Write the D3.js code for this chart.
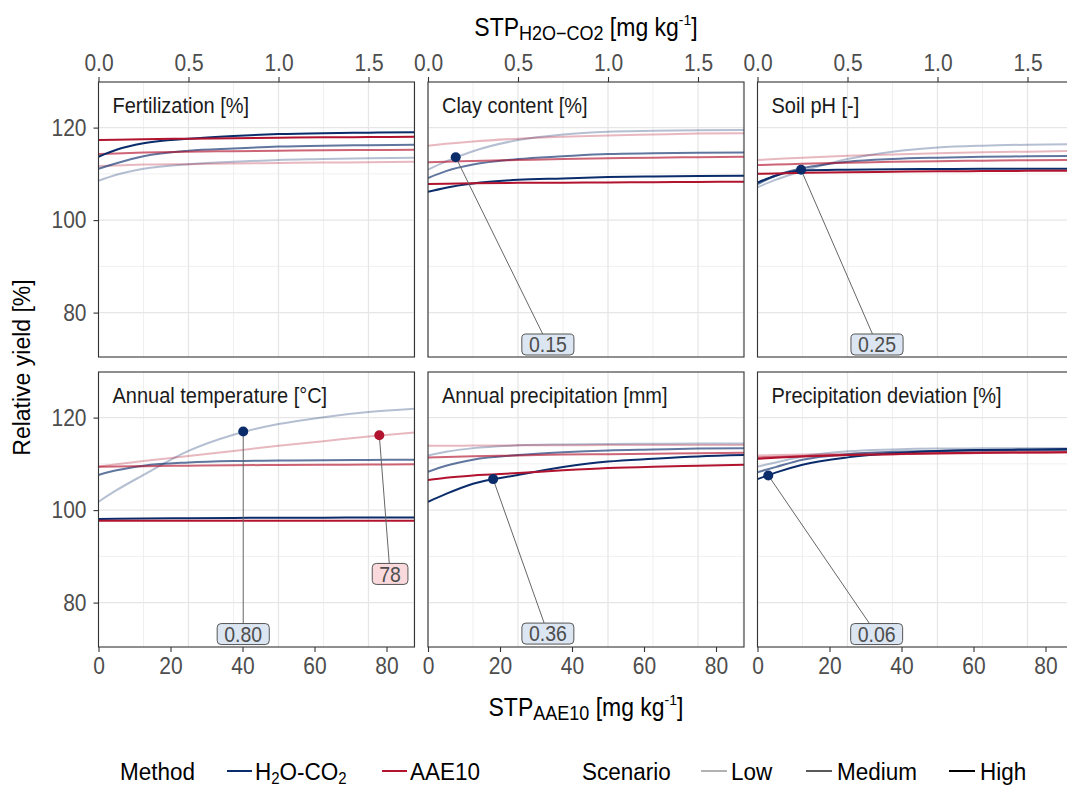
<!DOCTYPE html>
<html><head><meta charset="utf-8">
<script src="https://cdn.jsdelivr.net/npm/d3@7"></script>
<style>
html,body{margin:0;padding:0;background:#fff;}
svg{display:block;font-family:"Liberation Sans",Arial,Helvetica,sans-serif;}
</style></head>
<body>
<script>
// ---------------- data ----------------
const panelTitles = ["Fertilization [%]", "Clay content [%]", "Soil pH [-]",
  "Annual temperature [°C]", "Annual precipitation [mm]", "Precipitation deviation [%]"];
const methods = ["H2O-CO2", "AAE10"];
const scenarios = ["Low", "Medium", "High"];
// x positions (STP AAE10, mg/kg) at which the curves were read
const xSamples = [0, 5, 12.5, 25, 37.5, 50, 62.5, 75, 87.8];
// series order in each panel array: H2O-CO2 Low, Medium, High, AAE10 Low, Medium, High
const seriesMethod = ["H2O-CO2", "H2O-CO2", "H2O-CO2", "AAE10", "AAE10", "AAE10"];
const seriesScenario = ["Low", "Medium", "High", "Low", "Medium", "High"];

const fertilization = [
  [108.5, 109.8, 111.1, 112.1, 112.6, 113.0, 113.2, 113.4, 113.5],
  [111.1, 112.3, 113.8, 115.0, 115.5, 115.9, 116.1, 116.2, 116.3],
  [113.7, 115.2, 116.6, 117.6, 118.2, 118.6, 118.8, 118.9, 119.0],
  [111.7, 111.8, 112.0, 112.1, 112.25, 112.35, 112.45, 112.5, 112.6],
  [114.3, 114.4, 114.6, 114.8, 114.9, 115.0, 115.1, 115.15, 115.2],
  [117.3, 117.4, 117.5, 117.6, 117.7, 117.8, 117.9, 117.95, 118.0]
];
const clay = [
  [110.9, 112.7, 114.9, 117.3, 118.5, 119.1, 119.3, 119.45, 119.5],
  [109.1, 110.6, 112.0, 113.2, 113.8, 114.3, 114.45, 114.55, 114.6],
  [106.1, 107.0, 107.9, 108.7, 109.0, 109.3, 109.45, 109.55, 109.6],
  [116.1, 116.5, 117.0, 117.6, 118.0, 118.3, 118.5, 118.7, 118.8],
  [112.5, 112.6, 112.8, 113.0, 113.2, 113.35, 113.5, 113.6, 113.7],
  [107.8, 107.85, 107.95, 108.05, 108.1, 108.15, 108.2, 108.25, 108.3]
];
const soilPH = [
  [107.1, 108.7, 110.6, 113.2, 114.8, 115.7, 116.1, 116.3, 116.4],
  [107.8, 109.6, 111.2, 112.6, 113.2, 113.5, 113.7, 113.8, 113.9],
  [108.1, 109.6, 110.7, 110.9, 111.0, 111.05, 111.1, 111.1, 111.1],
  [113.0, 113.2, 113.5, 113.9, 114.2, 114.45, 114.65, 114.8, 114.95],
  [111.9, 112.0, 112.2, 112.4, 112.6, 112.75, 112.85, 112.95, 113.0],
  [110.0, 110.1, 110.2, 110.35, 110.45, 110.55, 110.6, 110.65, 110.7]
];
const temperature = [
  [101.8, 104.3, 107.6, 112.8, 116.3, 118.6, 120.1, 121.2, 121.9],
  [107.6, 108.6, 109.6, 110.3, 110.6, 110.7, 110.8, 110.85, 110.9],
  [98.1, 98.15, 98.2, 98.25, 98.3, 98.35, 98.35, 98.4, 98.4],
  [109.4, 109.9, 110.6, 111.7, 112.8, 113.9, 114.9, 115.9, 116.8],
  [109.4, 109.45, 109.5, 109.6, 109.7, 109.75, 109.8, 109.85, 109.9],
  [97.7, 97.7, 97.7, 97.7, 97.7, 97.7, 97.7, 97.7, 97.7]
];
const precipitation = [
  [111.8, 112.6, 113.4, 114.0, 114.2, 114.3, 114.35, 114.4, 114.4],
  [108.3, 109.6, 110.9, 111.9, 112.5, 112.9, 113.1, 113.3, 113.4],
  [101.8, 103.5, 105.7, 107.6, 109.3, 110.5, 111.1, 111.6, 111.9],
  [113.9, 113.9, 113.95, 114.0, 114.0, 114.05, 114.05, 114.1, 114.1],
  [111.4, 111.5, 111.65, 111.8, 112.0, 112.1, 112.2, 112.3, 112.4],
  [106.5, 107.0, 107.5, 108.0, 108.6, 109.1, 109.4, 109.6, 109.8]
];
const precipDeviation = [
  [109.4, 110.3, 111.6, 112.7, 113.1, 113.3, 113.35, 113.4, 113.4],
  [108.2, 109.3, 110.9, 112.1, 112.6, 112.8, 112.9, 113.0, 113.0],
  [106.7, 108.1, 109.8, 111.4, 112.3, 112.8, 113.0, 113.1, 113.2],
  [111.8, 111.9, 112.0, 112.2, 112.35, 112.5, 112.6, 112.65, 112.7],
  [111.4, 111.5, 111.7, 111.9, 112.1, 112.25, 112.35, 112.45, 112.5],
  [111.1, 111.3, 111.6, 111.9, 112.1, 112.3, 112.4, 112.45, 112.5]
];
const panelData = [fertilization, clay, soilPH, temperature, precipitation, precipDeviation];

// highlighted points and their labels
const markerPanel = [1, 2, 3, 3, 4, 5];
const markerMethod = ["H2O-CO2", "H2O-CO2", "H2O-CO2", "AAE10", "H2O-CO2", "H2O-CO2"];
const markerX = [7.7, 12.1, 40.2, 78.0, 18.1, 3.0];
const markerY = [113.6, 110.9, 117.0, 116.2, 106.7, 107.5];
const markerLabel = ["0.15", "0.25", "0.80", "78", "0.36", "0.06"];
const labelX = [33.3, 33.2, 40.2, 81.0, 33.3, 33.1];
const labelY = [73.1, 73.1, 73.2, 86.2, 73.3, 73.2];

const yTicks = [80, 100, 120];
const yMinor = [90, 110];
const bottomTicks = [0, 20, 40, 60, 80];
const topTicks = [0.0, 0.5, 1.0, 1.5];
const topMinor = [0.25, 0.75, 1.25, 1.75];

// ---------------- layout ----------------
const W = 1067, H = 787;
const PW = 316, PH = 275;
const colX = [98.5, 428, 757.5];
const rowY = [82, 372];
const TEXT_STRETCH = 1.1;
const methodColor = {"H2O-CO2": "#0b2c6b", "AAE10": "#b2132e"};
const methodFill = {"H2O-CO2": "#dce6f2", "AAE10": "#f9d9dc"};
const scenarioAlpha = {"Low": 0.3, "Medium": 0.65, "High": 1};
const tickColor = "#333333", tickText = "#4d4d4d";

const svg = d3.select("body").append("svg").attr("width", W).attr("height", H);

const x = d3.scaleLinear().domain([0, PW / 3.6]).range([0, PW]);
const xTop = d3.scaleLinear().domain([0, PW / 3.6 / 50]).range([0, PW]);
const y = d3.scaleLinear().domain([70.4, 129.86]).range([PH, 0]);

const defs = svg.append("defs");
defs.append("clipPath").attr("id", "clip").append("rect").attr("width", PW).attr("height", PH);

const line = d3.line().x(d => x(d[0])).y(d => y(d[1])).curve(d3.curveMonotoneX);
const drawOrder = [0, 3, 1, 4, 2, 5];

panelTitles.forEach((title, pi) => {
  const col = pi % 3, row = Math.floor(pi / 3);
  const g = svg.append("g").attr("transform", `translate(${colX[col]},${rowY[row]})`);
  g.append("rect").attr("width", PW).attr("height", PH).attr("fill", "#fff");
  const grid = g.append("g");
  topMinor.forEach(t => grid.append("line").attr("x1", xTop(t)).attr("x2", xTop(t))
    .attr("y1", 0).attr("y2", PH).attr("stroke", "#ececec").attr("stroke-width", 0.8));
  yMinor.forEach(t => grid.append("line").attr("x1", 0).attr("x2", PW)
    .attr("y1", y(t)).attr("y2", y(t)).attr("stroke", "#ececec").attr("stroke-width", 0.8));
  topTicks.forEach(t => grid.append("line").attr("x1", xTop(t)).attr("x2", xTop(t))
    .attr("y1", 0).attr("y2", PH).attr("stroke", "#e6e6e6").attr("stroke-width", 1.3));
  yTicks.forEach(t => grid.append("line").attr("x1", 0).attr("x2", PW)
    .attr("y1", y(t)).attr("y2", y(t)).attr("stroke", "#e6e6e6").attr("stroke-width", 1.3));

  const lines = g.append("g").attr("clip-path", "url(#clip)");
  const data = panelData[pi];
  drawOrder.forEach(si => {
    const pts = xSamples.map((xv, k) => [xv, data[si][k]]);
    lines.append("path").attr("d", line(pts)).attr("fill", "none")
      .attr("stroke", methodColor[seriesMethod[si]])
      .attr("stroke-opacity", scenarioAlpha[seriesScenario[si]])
      .attr("stroke-width", 2);
  });

  g.append("text").attr("x", 14).attr("y", 30).attr("font-size", 20).attr("fill", "#1a1a1a").text(title);

  markerPanel.forEach((mp, mi) => {
    if (mp !== pi) return;
    const px = x(markerX[mi]), py = y(markerY[mi]);
    const lx = x(labelX[mi]), ly = y(labelY[mi]);
    g.append("line").attr("x1", px).attr("y1", py).attr("x2", lx).attr("y2", ly)
      .attr("stroke", "#666").attr("stroke-width", 1);
    g.append("circle").attr("cx", px).attr("cy", py).attr("r", 5)
      .attr("fill", methodColor[markerMethod[mi]]);
    const lab = g.append("g");
    const t = lab.append("text").attr("x", lx).attr("y", ly + 7).attr("text-anchor", "middle")
      .attr("font-size", 19.5).attr("fill", "#4d4d4d").text(markerLabel[mi]);
    const bb = t.node().getBBox();
    lab.insert("rect", "text").attr("x", lx - bb.width / 2 - 7).attr("y", ly - 10.5)
      .attr("width", bb.width + 14).attr("height", 21).attr("rx", 4)
      .attr("fill", methodFill[markerMethod[mi]]).attr("stroke", "#555").attr("stroke-width", 1);
  });

  g.append("rect").attr("width", PW).attr("height", PH).attr("fill", "none")
    .attr("stroke", "#333").attr("stroke-width", 1.1);

  if (row === 0) {
    const ax = g.append("g").call(d3.axisTop(xTop).tickValues(topTicks).tickFormat(d3.format(".1f")).tickSize(5).tickPadding(7));
    ax.select(".domain").remove();
    ax.selectAll("line").attr("stroke", tickColor).attr("stroke-width", 1.1);
    ax.selectAll("text").attr("font-size", 21).attr("fill", tickText).attr("font-family", null);
  } else {
    const ax = g.append("g").attr("transform", `translate(0,${PH})`)
      .call(d3.axisBottom(x).tickValues(bottomTicks).tickSize(5).tickPadding(6));
    ax.select(".domain").remove();
    ax.selectAll("line").attr("stroke", tickColor).attr("stroke-width", 1.1);
    ax.selectAll("text").attr("font-size", 21).attr("fill", tickText).attr("font-family", null);
  }
  if (col === 0) {
    const ay = g.append("g").call(d3.axisLeft(y).tickValues(yTicks).tickSize(5).tickPadding(7));
    ay.select(".domain").remove();
    ay.selectAll("line").attr("stroke", tickColor).attr("stroke-width", 1.1);
    ay.selectAll("text").attr("font-size", 21).attr("fill", tickText).attr("font-family", null);
  }
});

// axis titles with sub/superscripts
const cx = (colX[0] + colX[2] + PW) / 2;
function axisTitle(yPos, sub) {
  const t = svg.append("text").attr("x", cx).attr("y", yPos).attr("text-anchor", "middle")
    .attr("font-size", 23).attr("fill", "#000");
  t.append("tspan").text("STP");
  t.append("tspan").attr("font-size", 18).attr("dy", 4).text(sub);
  t.append("tspan").attr("dy", -4).text(" [mg kg");
  t.append("tspan").attr("font-size", 14).attr("dy", -10).text("-1");
  t.append("tspan").attr("dy", 10).text("]");
}
axisTitle(35, "H2O\u2212CO2");
axisTitle(715, "AAE10");

// legend
const legend = svg.append("g").attr("font-size", 22.5).attr("fill", "#000");
const ly0 = 771, lyText = 779;
legend.append("text").attr("x", 120).attr("y", lyText).text("Method");
const methodKeys = [{m: "H2O-CO2", x: 227, tx: 255}, {m: "AAE10", x: 382, tx: 410}];
methodKeys.forEach(k => {
  legend.append("line").attr("x1", k.x).attr("x2", k.x + 25).attr("y1", ly0).attr("y2", ly0)
    .attr("stroke", methodColor[k.m]).attr("stroke-width", 2);
  const t = legend.append("text").attr("x", k.tx).attr("y", lyText);
  if (k.m === "H2O-CO2") {
    t.append("tspan").text("H");
    t.append("tspan").attr("font-size", 15).attr("dy", 3.5).text("2");
    t.append("tspan").attr("dy", -3.5).text("O-CO");
    t.append("tspan").attr("font-size", 15).attr("dy", 3.5).text("2");
  } else t.text(k.m);
});
legend.append("text").attr("x", 582).attr("y", lyText).text("Scenario");
const scenKeys = [{s: "Low", x: 701, tx: 731}, {s: "Medium", x: 806, tx: 837}, {s: "High", x: 949, tx: 980}];
scenKeys.forEach(k => {
  legend.append("line").attr("x1", k.x).attr("x2", k.x + 26).attr("y1", ly0).attr("y2", ly0)
    .attr("stroke", "#000").attr("stroke-opacity", scenarioAlpha[k.s]).attr("stroke-width", 2);
  legend.append("text").attr("x", k.tx).attr("y", lyText).text(k.s);
});

// the reference glyphs are slightly taller than wide: stretch each horizontal text vertically about its centre
svg.selectAll("text").each(function () {
  const bb = this.getBBox();
  const c = bb.y + bb.height / 2;
  d3.select(this).attr("transform", `translate(0,${c}) scale(1,${TEXT_STRETCH}) translate(0,${-c})`);
});

// rotated y-axis title
svg.append("text").attr("transform", `translate(30,${(rowY[0] + rowY[1] + PH) / 2 + 3}) rotate(-90)`)
  .attr("text-anchor", "middle").attr("font-size", 23).attr("fill", "#000").text("Relative yield [%]");
</script>
</body></html>
